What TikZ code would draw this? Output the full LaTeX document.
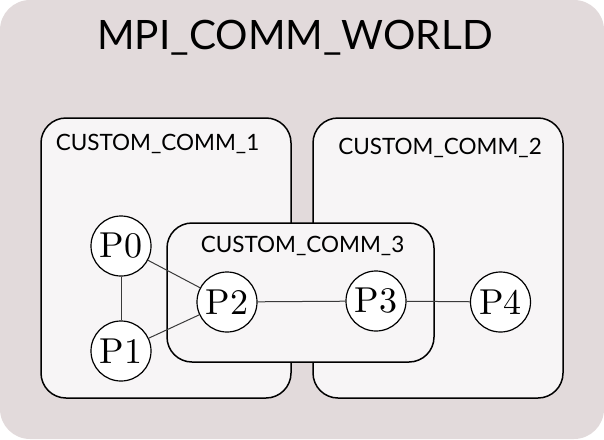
\documentclass[tikz,border=0pt]{standalone}
\usepackage{fontspec}
\newfontfamily\lato{Lato}
\newfontfamily\cmten{lmroman10-regular.otf}
\definecolor{worldbg}{HTML}{E2DADB}
\definecolor{commbg}{HTML}{F7F5F6}
\definecolor{edgecol}{HTML}{3A3A3A}
\begin{document}
\begin{tikzpicture}[x=1pt,y=-1pt,
  commbox/.style={draw=black,line width=1.5pt,fill=commbg,rounded corners=25pt},
  proc/.style={circle,draw=black,line width=1.2pt,fill=white,minimum size=60pt,inner sep=0pt,font=\cmten\fontsize{36}{38}\selectfont},
  link/.style={draw=edgecol,line width=1pt},
  commlabel/.style={font=\lato\fontsize{22.5}{26}\selectfont,anchor=base,inner sep=0pt}
]
\useasboundingbox (0,0) rectangle (604,439);
\fill[worldbg,rounded corners=30pt] (0,0) rectangle (604,439);
\node[font=\lato\fontsize{40.5}{46}\selectfont,anchor=base,inner sep=0pt] (title) at (295,49) {MPI\_COMM\_WORLD};

\draw[commbox] (41,118) rectangle (291,398);
\draw[commbox] (313,118) rectangle (563,398);
\draw[commbox] (167,223) rectangle (434,362);
\node[commlabel] (l1) at (157.5,150) {CUSTOM\_COMM\_1};
\node[commlabel] (l2) at (440,154) {CUSTOM\_COMM\_2};
\node[commlabel] (l3) at (302.5,252) {CUSTOM\_COMM\_3};

\node[proc] (p0) at (121,246) {P0};
\node[proc] (p1) at (121,351) {P1};
\node[proc] (p2) at (227,302) {P2};
\node[proc] (p3) at (376,301) {P3};
\node[proc] (p4) at (500.5,302) {P4};

\draw[link] (p0) -- (p1);
\draw[link] (p0) -- (p2);
\draw[link] (p1) -- (p2);
\draw[link] (p2) -- (p3);
\draw[link] (p3) -- (p4);
\end{tikzpicture}
\end{document}
